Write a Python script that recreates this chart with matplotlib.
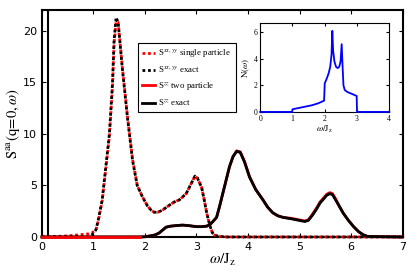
import matplotlib
matplotlib.use("Agg")
import matplotlib.pyplot as plt
import numpy as np

plt.rcParams['mathtext.fontset'] = 'stix'

# S^{xx,yy} exact (black dotted)
w_xy = [0.0, 0.5, 0.9, 0.97, 1.05, 1.1, 1.17, 1.24, 1.31, 1.37, 1.40, 1.44, 1.48,
        1.56, 1.66, 1.76, 1.85, 1.95, 2.05, 2.12, 2.18, 2.25, 2.34, 2.45, 2.57, 2.67,
        2.8, 2.9, 2.97, 3.02, 3.1, 3.15, 3.2, 3.26, 3.31, 3.36, 3.45, 3.6, 7.0]
s_xy_exact = [0.0, 0.0, 0.0, 0.2, 0.7, 1.8, 3.6, 6.8, 10.0, 14.9, 19.0, 21.3, 20.8,
              16.4, 11.6, 7.4, 5.0, 3.9, 3.0, 2.6, 2.4, 2.4, 2.6, 3.0, 3.4, 3.6,
              4.2, 5.2, 5.9, 5.7, 4.8, 3.6, 2.3, 1.1, 0.4, 0.15, 0.05, 0.0, 0.0]
# S^{xx,yy} single particle (red dotted)
s_xy_single = [0.0, 0.1, 0.3, 0.4, 0.7, 1.7, 3.5, 6.6, 9.8, 14.6, 18.7, 20.9, 20.8,
               16.5, 11.7, 7.5, 5.0, 3.9, 3.0, 2.6, 2.4, 2.4, 2.6, 3.0, 3.4, 3.6,
               4.2, 5.2, 5.9, 5.7, 4.8, 3.6, 2.3, 1.1, 0.4, 0.15, 0.05, 0.0, 0.0]

# S^{zz} exact (black solid)
w_zz = [0.0, 1.9, 2.0, 2.1, 2.2, 2.28, 2.35, 2.41, 2.5, 2.6, 2.73, 2.85, 3.0, 3.1,
        3.2, 3.26, 3.32, 3.39, 3.45, 3.51, 3.58, 3.64, 3.71, 3.78, 3.85, 3.93, 4.03,
        4.15, 4.29, 4.38, 4.48, 4.58, 4.68, 4.85, 5.0, 5.1, 5.17, 5.25, 5.33, 5.4,
        5.47, 5.53, 5.59, 5.64, 5.7, 5.77, 5.85, 5.95, 6.05, 6.15, 6.24, 6.32, 7.0]
s_zz_exact = [0.0, 0.0, 0.02, 0.1, 0.2, 0.4, 0.7, 0.95, 1.05, 1.1, 1.15, 1.1, 1.0, 1.0,
              1.05, 1.2, 1.5, 1.9, 3.0, 4.2, 5.6, 6.8, 7.8, 8.3, 8.2, 7.3, 5.8,
              4.6, 3.6, 2.9, 2.35, 2.05, 1.9, 1.75, 1.6, 1.5, 1.6, 2.1, 2.7, 3.3,
              3.7, 4.05, 4.2, 4.1, 3.6, 3.0, 2.3, 1.6, 1.0, 0.5, 0.2, 0.05, 0.0]
# S^{zz} two particle (red solid)
s_zz_two = [0.0, 0.0, 0.02, 0.1, 0.2, 0.4, 0.7, 0.95, 1.05, 1.1, 1.15, 1.1, 1.0, 1.0,
            1.05, 1.2, 1.5, 1.9, 3.0, 4.2, 5.6, 6.8, 7.8, 8.35, 8.25, 7.35, 5.85,
            4.6, 3.6, 2.9, 2.35, 2.05, 1.9, 1.8, 1.65, 1.55, 1.65, 2.2, 2.8, 3.4,
            3.8, 4.15, 4.3, 4.2, 3.7, 3.0, 2.3, 1.6, 1.0, 0.5, 0.2, 0.05, 0.0]
spike_w = 0.12

# inset: density of states N(omega)
w_dos = [0.0, 0.99, 1.0, 1.3, 1.6, 1.8, 1.98, 2.0, 2.06, 2.12, 2.17, 2.21, 2.235,
         2.26, 2.3, 2.35, 2.4, 2.45, 2.49, 2.525, 2.55, 2.58, 2.62, 2.7, 2.85,
         2.99, 3.0, 4.0]
n_dos = [0.0, 0.0, 0.2, 0.35, 0.5, 0.65, 0.85, 2.15, 2.5, 2.9, 3.4, 4.3, 6.1,
         4.6, 3.8, 3.4, 3.3, 3.4, 3.8, 5.1, 3.6, 2.0, 1.65, 1.5, 1.35,
         1.2, 0.0, 0.0]

fig = plt.figure(figsize=(4.15, 2.73), dpi=100)
ax = fig.add_axes([0.101, 0.132, 0.869, 0.831])

ax.plot(w_xy, s_xy_single, color='red', ls=(0, (1, 1)), lw=2, zorder=3, clip_on=False,
        label=r'S$^{xx,yy}$ single particle')
ax.plot(w_xy, s_xy_exact, color='black', ls=(0, (1, 1)), lw=2, zorder=3, clip_on=False,
        label=r'S$^{xx,yy}$ exact')
ax.plot(w_zz, s_zz_two, color='red', lw=2, zorder=3, clip_on=False,
        label=r'S$^{zz}$ two particle')
ax.plot(w_zz, s_zz_exact, color='black', lw=2, zorder=3, clip_on=False,
        label=r'S$^{zz}$ exact')
ax.plot(w_zz[:2], s_zz_two[:2], color='red', lw=2, zorder=4, clip_on=False)
ax.axvline(spike_w, color='black', lw=1.5)

ax.set_xlim(0, 7)
ax.set_ylim(0, 22)
ax.set_xticks(range(0, 8))
ax.set_yticks([0, 5, 10, 15, 20])
ax.tick_params(direction='in', top=True, right=True, labelsize=8, length=3)
for s in ax.spines.values():
    s.set_linewidth(1.5)
ax.set_xlabel(r'$\omega/\mathrm{J_z}$', fontsize=11, labelpad=0)
ax.set_ylabel(r'$\mathrm{S}^{\mathrm{aa}}(\mathrm{q\!=\!0,}\omega)$', fontsize=10.5, labelpad=1)

leg = ax.legend(loc='upper left', bbox_to_anchor=(0.254, 0.874), fancybox=False,
                edgecolor='black', framealpha=1, handlelength=1.4, handletextpad=0.4,
                borderpad=0.5, labelspacing=0.55,
                prop={'family': 'Liberation Serif', 'size': 6.4})
leg.get_frame().set_linewidth(0.8)

ins = fig.add_axes([0.627, 0.590, 0.311, 0.326])
ins.plot(w_dos, n_dos, color='blue', lw=1.3, zorder=3, clip_on=False)
ins.set_xlim(0, 4)
ins.set_ylim(0, 6.7)
ins.set_xticks([0, 1, 2, 3, 4])
ins.set_yticks([0, 2, 4, 6])
ins.tick_params(direction='in', top=True, right=True, labelsize=5.5, length=2, pad=2)
for lab in ins.get_xticklabels() + ins.get_yticklabels():
    lab.set_family('Liberation Serif')
ins.set_xlabel(r'$\omega/\mathrm{J_z}$', fontsize=6.5, labelpad=1)
ins.set_ylabel(r'$\mathrm{N}(\omega)$', fontsize=6.5, labelpad=1)

fig.savefig('out.png', dpi=100)
